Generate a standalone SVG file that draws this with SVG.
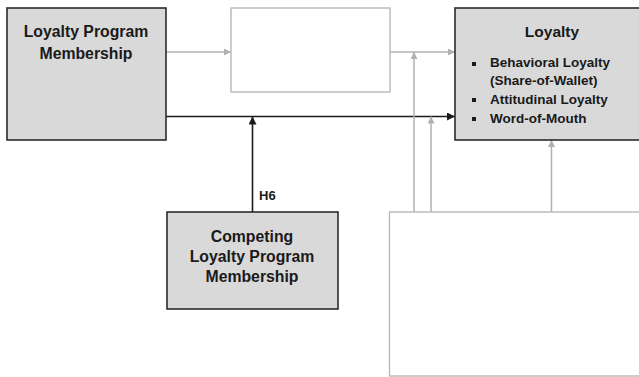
<svg xmlns="http://www.w3.org/2000/svg" width="639" height="377" viewBox="0 0 639 377">
<defs>
<style>
.dark{fill:#d9d9d9;stroke:#2b2b2b;stroke-width:1.6}
.empty{fill:#ffffff;stroke:#b8b8b8;stroke-width:1.4}
.t{font-family:"Liberation Sans",Arial,sans-serif;font-weight:bold;fill:#1a1a1a}
.g{stroke:#b0b0b0;stroke-width:1.5;fill:none}
.k{stroke:#1a1a1a;stroke-width:1.6;fill:none}
</style>
<marker id="ag" viewBox="0 0 10 10" refX="10" refY="5" markerWidth="7" markerHeight="7" markerUnits="userSpaceOnUse" orient="auto">
<path d="M0,0 L10,5 L0,10 z" fill="#b0b0b0"/>
</marker>
<marker id="ak" viewBox="0 0 10 10" refX="10" refY="5" markerWidth="8" markerHeight="8" markerUnits="userSpaceOnUse" orient="auto">
<path d="M0,0 L10,5 L0,10 z" fill="#1a1a1a"/>
</marker>
</defs>
<rect width="639" height="377" fill="#ffffff"/>
<g id="connectors">
<line class="g" x1="166" y1="52" x2="231" y2="52" marker-end="url(#ag)"/>
<line class="g" x1="390" y1="52" x2="455" y2="52" marker-end="url(#ag)"/>
<line class="k" x1="166" y1="116.5" x2="455" y2="116.5" marker-end="url(#ak)"/>
<line class="k" x1="252.5" y1="212" x2="252.5" y2="116.5" marker-end="url(#ak)"/>
<line class="g" x1="414" y1="212" x2="414" y2="52" marker-end="url(#ag)"/>
<line class="g" x1="431" y1="212" x2="431" y2="116.5" marker-end="url(#ag)"/>
<line class="g" x1="551.5" y1="212" x2="551.5" y2="140" marker-end="url(#ag)"/>
<text class="t" x="259" y="200" font-size="13">H6</text>
</g>
<g id="lpm">
<rect class="dark" x="7" y="8" width="159" height="132"/>
<text class="t" x="86" y="37" font-size="15.8" text-anchor="middle">Loyalty Program</text>
<text class="t" x="86" y="59" font-size="15.8" text-anchor="middle">Membership</text>
</g>
<g id="mediator">
<rect class="empty" x="231" y="8" width="159" height="84"/>
</g>
<g id="loyalty">
<rect class="dark" x="455" y="8" width="190" height="132"/>
<text class="t" x="552" y="37" font-size="15.5" text-anchor="middle">Loyalty</text>
<g class="t" font-size="13.5">
<rect x="472" y="62" width="4" height="4" fill="#1a1a1a"/>
<text x="490" y="67">Behavioral Loyalty</text>
<text x="490" y="85">(Share-of-Wallet)</text>
<rect x="472" y="98" width="4" height="4" fill="#1a1a1a"/>
<text x="490" y="104">Attitudinal Loyalty</text>
<rect x="472" y="117" width="4" height="4" fill="#1a1a1a"/>
<text x="490" y="123">Word-of-Mouth</text>
</g>
</g>
<g id="competing">
<rect class="dark" x="167" y="212" width="171" height="97"/>
<text class="t" x="252" y="242" font-size="15.8" text-anchor="middle">Competing</text>
<text class="t" x="252" y="262" font-size="15.8" text-anchor="middle">Loyalty Program</text>
<text class="t" x="252" y="282" font-size="15.8" text-anchor="middle">Membership</text>
</g>
<g id="moderators">
<rect class="empty" x="389.5" y="212" width="260" height="164"/>
</g>
</svg>
